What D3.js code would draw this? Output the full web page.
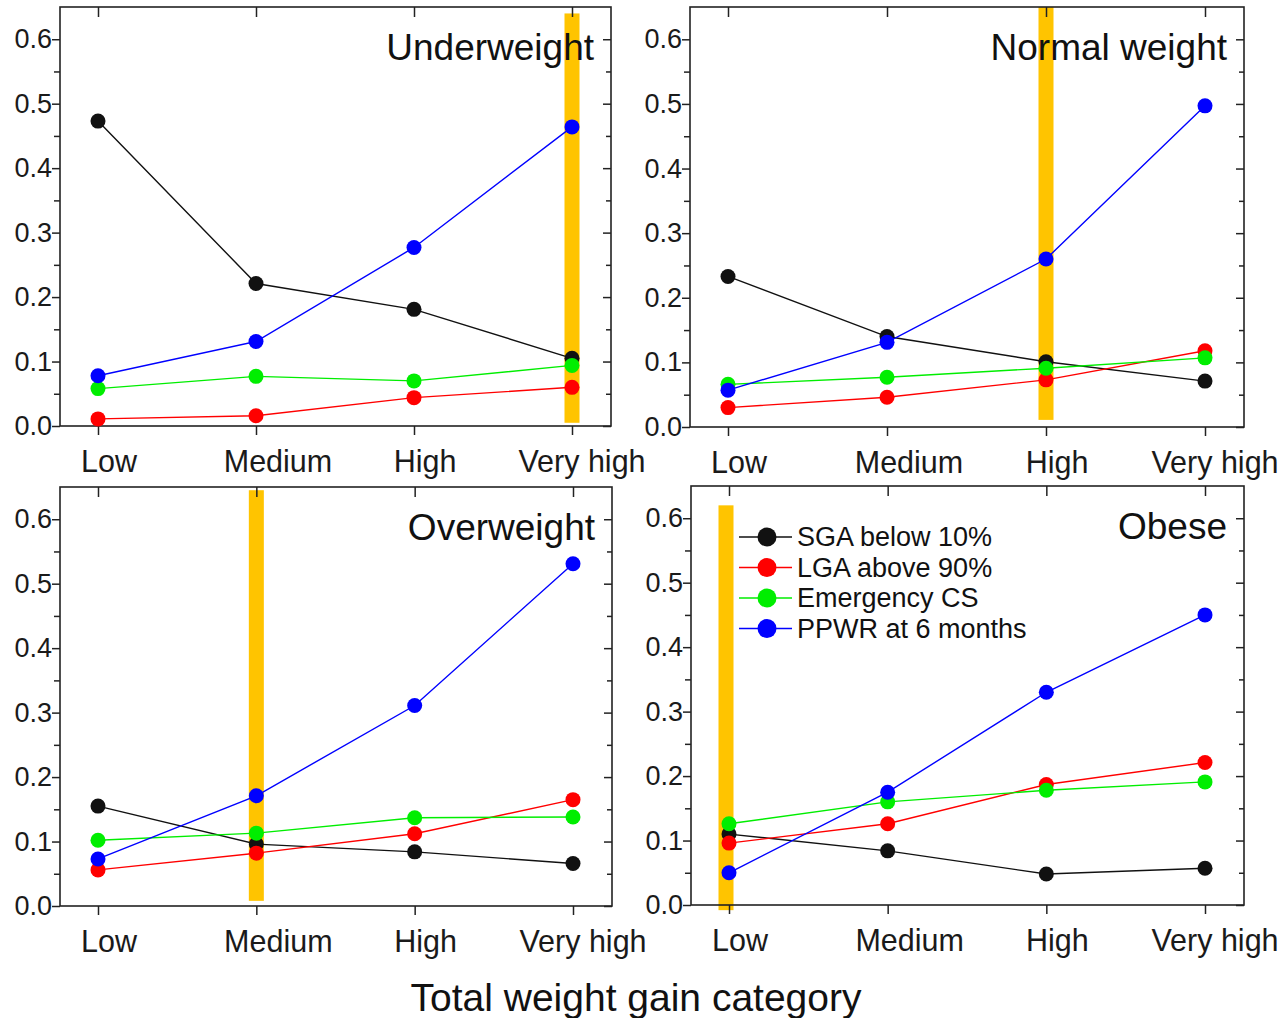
<!DOCTYPE html>
<html>
<head>
<meta charset="utf-8">
<script src="https://cdn.jsdelivr.net/npm/d3@7"></script>
<style>
  html, body { margin: 0; padding: 0; background: #fff; }
  svg { display: block; font-family: "Liberation Sans", Arial, sans-serif; }
</style>
</head>
<body>
<svg id="chart" width="1287" height="1018"></svg>
<script>
// ---- data ----
const categories = ["Low", "Medium", "High", "Very high"];
const seriesNames = ["SGA below 10%", "LGA above 90%", "Emergency CS", "PPWR at 6 months"];
const seriesColors = ["#111111", "#ff0000", "#00ee00", "#0000ff"];
const panelTitles = ["Underweight", "Normal weight", "Overweight", "Obese"];
const highlightCategory = ["Very high", "High", "Medium", "Low"];
const yTicks = [0.0, 0.1, 0.2, 0.3, 0.4, 0.5, 0.6];
const yMinorTicks = [0.05, 0.15, 0.25, 0.35, 0.45, 0.55];

const underweight = {
  sga:  [0.473, 0.221, 0.181, 0.105],
  lga:  [0.011, 0.016, 0.044, 0.060],
  ecs:  [0.058, 0.077, 0.070, 0.094],
  ppwr: [0.078, 0.131, 0.277, 0.464]
};
const normalWeight = {
  sga:  [0.233, 0.140, 0.101, 0.071],
  lga:  [0.030, 0.046, 0.073, 0.118],
  ecs:  [0.066, 0.077, 0.091, 0.107],
  ppwr: [0.057, 0.131, 0.260, 0.497]
};
const overweight = {
  sga:  [0.155, 0.096, 0.084, 0.066],
  lga:  [0.056, 0.082, 0.112, 0.165],
  ecs:  [0.102, 0.113, 0.137, 0.138],
  ppwr: [0.073, 0.171, 0.311, 0.531]
};
const obese = {
  sga:  [0.110, 0.084, 0.048, 0.057],
  lga:  [0.096, 0.126, 0.187, 0.221],
  ecs:  [0.126, 0.160, 0.178, 0.191],
  ppwr: [0.050, 0.175, 0.330, 0.450]
};
const panelData = [underweight, normalWeight, overweight, obese];
const seriesKeys = ["sga", "lga", "ecs", "ppwr"];
const xAxisTitle = "Total weight gain category";

// ---- layout ----
const panels = [
  { left: 60,  right: 611,  top: 7,   bottom: 426, band: [0.005, 0.64] },
  { left: 690, right: 1244, top: 7,   bottom: 427, band: [0.011, 0.65] },
  { left: 60,  right: 612,  top: 487, bottom: 906, band: [0.008, 0.645] },
  { left: 691, right: 1244, top: 486, bottom: 905, band: [-0.008, 0.62] }
];
const labelNudge = [11, 22, 11, 10];

const svg = d3.select("#chart");
svg.append("rect").attr("width", 1287).attr("height", 1018).attr("fill", "#fff");

panels.forEach((p, i) => {
  const g = svg.append("g");
  const x = d3.scalePoint().domain(categories).range([p.left + 38, p.right - 39]);
  const y = d3.scaleLinear().domain([0, 0.65]).range([p.bottom, p.top]);

  // highlight band
  const hx = x(highlightCategory[i]) + (i === 3 ? -3 : 0);
  g.append("rect")
    .attr("x", hx - 7.5).attr("width", 15)
    .attr("y", y(p.band[1])).attr("height", y(p.band[0]) - y(p.band[1]))
    .attr("fill", "#ffc400");

  // axes
  const axStyle = sel => { sel.select(".domain").remove(); sel.selectAll("line").attr("stroke", "#222").attr("stroke-width", 1.5); };

  g.append("g").attr("transform", `translate(${p.left},0)`)
    .call(d3.axisLeft(y).tickValues(yTicks).tickSize(8).tickFormat(""))
    .call(axStyle);
  g.append("g").attr("transform", `translate(${p.left},0)`)
    .call(d3.axisLeft(y).tickValues(yMinorTicks).tickSize(6).tickFormat(""))
    .call(axStyle);
  g.append("g").attr("transform", `translate(${p.right},0)`)
    .call(d3.axisRight(y).tickValues(yTicks).tickSize(-8).tickFormat(""))
    .call(axStyle);
  g.append("g").attr("transform", `translate(${p.right},0)`)
    .call(d3.axisRight(y).tickValues(yMinorTicks).tickSize(-5).tickFormat(""))
    .call(axStyle);
  g.append("g").attr("transform", `translate(0,${p.bottom})`)
    .call(d3.axisBottom(x).tickSize(9).tickFormat(""))
    .call(axStyle);
  g.append("g").attr("transform", `translate(0,${p.top})`)
    .call(d3.axisTop(x).tickSize(-10).tickFormat(""))
    .call(axStyle);

  // y tick labels
  g.selectAll(".ylab").data(yTicks).join("text")
    .attr("x", p.left - 8).attr("y", d => y(d))
    .attr("text-anchor", "end").attr("dominant-baseline", "central")
    .attr("font-size", 27).attr("fill", "#1a1a1a")
    .text(d3.format(".1f"));

  // x tick labels
  g.selectAll(".xlab").data(categories).join("text")
    .attr("x", (d, j) => x(d) + labelNudge[j]).attr("y", p.bottom + 35)
    .attr("text-anchor", "middle").attr("dominant-baseline", "central")
    .attr("font-size", 30.5).attr("fill", "#1a1a1a")
    .text(d => d);

  // frame
  g.append("rect")
    .attr("x", p.left).attr("y", p.top)
    .attr("width", p.right - p.left).attr("height", p.bottom - p.top)
    .attr("fill", "none").attr("stroke", "#222").attr("stroke-width", 1.6);

  // title
  g.append("text")
    .attr("x", p.right - 17).attr("y", p.top + 53)
    .attr("text-anchor", "end").attr("font-size", 37).attr("fill", "#111")
    .text(panelTitles[i]);

  // series
  const line = d3.line().x((d, j) => x(categories[j])).y(d => y(d));
  seriesKeys.forEach((k, s) => {
    const vals = panelData[i][k];
    g.append("path").datum(vals)
      .attr("d", line).attr("fill", "none")
      .attr("stroke", seriesColors[s]).attr("stroke-width", 1.4);
    g.selectAll(null).data(vals).join("circle")
      .attr("cx", (d, j) => x(categories[j])).attr("cy", d => y(d))
      .attr("r", 7.5).attr("fill", seriesColors[s]);
  });

  // legend in last panel
  if (i === 3) {
    const lg = g.append("g");
    seriesNames.forEach((name, s) => {
      const ly = p.top + 51 + s * 30.5;
      lg.append("line").attr("x1", p.left + 48).attr("x2", p.left + 101)
        .attr("y1", ly).attr("y2", ly).attr("stroke", seriesColors[s]).attr("stroke-width", 1.6);
      lg.append("circle").attr("cx", p.left + 76).attr("cy", ly).attr("r", 9.5).attr("fill", seriesColors[s]);
      lg.append("text").attr("x", p.left + 106).attr("y", ly)
        .attr("dominant-baseline", "central").attr("font-size", 27).attr("fill", "#111")
        .text(name);
    });
  }
});

svg.append("text")
  .attr("x", 636).attr("y", 1011)
  .attr("text-anchor", "middle").attr("font-size", 39).attr("fill", "#111")
  .text(xAxisTitle);
</script>
</body>
</html>
